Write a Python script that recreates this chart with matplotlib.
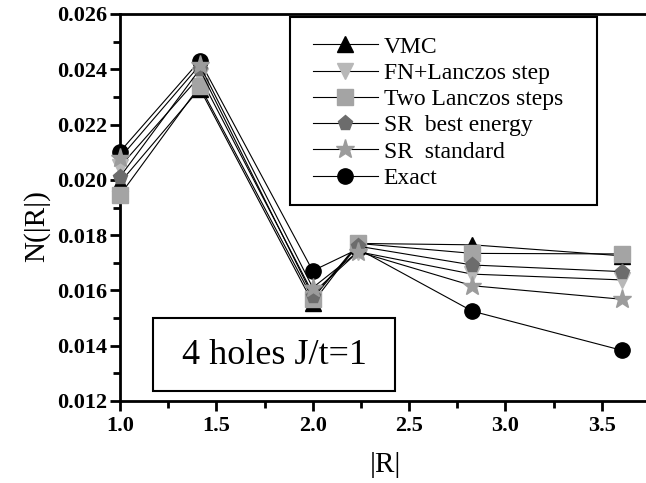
import matplotlib
matplotlib.use("Agg")
import matplotlib.pyplot as plt
from matplotlib.patches import Rectangle
from matplotlib.ticker import MultipleLocator

plt.rcParams["font.family"] = ["Liberation Serif", "DejaVu Serif"]

r = [1.0, 1.414, 2.0, 2.236, 2.828, 3.606]

vmc = [0.01990, 0.02330, 0.01555, 0.01770, 0.01765, 0.01725]
fn_lanczos = [0.02048, 0.02375, 0.01590, 0.01740, 0.01659, 0.01638]
two_lanczos = [0.01945, 0.02340, 0.01570, 0.01770, 0.01734, 0.01732]
sr_best = [0.02011, 0.02400, 0.01580, 0.01760, 0.01692, 0.01668]
sr_standard = [0.02079, 0.02415, 0.01610, 0.01740, 0.01617, 0.01568]
exact = [0.02102, 0.02431, 0.01671, 0.01750, 0.01525, 0.01383]

series = [
    ("VMC", vmc, "^", "black", 3),
    ("FN+Lanczos step", fn_lanczos, "v", "#b8b8b8", 4),
    ("Two Lanczos steps", two_lanczos, "s", "#a4a4a4", 5),
    ("SR  best energy", sr_best, "p", "#6c6c6c", 6),
    ("SR  standard", sr_standard, "*", "#9c9c9c", 7),
    ("Exact", exact, "o", "black", 2),
]

fig = plt.figure(figsize=(6.46, 4.83), dpi=100)
ax = fig.add_axes([120 / 646, 82 / 483, 530 / 646, 387 / 483])

for label, vals, mk, col, z in series:
    ms = 14 if mk == "*" else 11
    ax.plot(r, vals, color="black", lw=0.8, marker=mk, markersize=ms,
            markerfacecolor=col, markeredgecolor=col, label=label,
            clip_on=False, zorder=z)

ax.set_xlim(1.0, 3.75)
ax.set_ylim(0.012, 0.026)
ax.xaxis.set_major_locator(MultipleLocator(0.5))
ax.xaxis.set_minor_locator(MultipleLocator(0.25))
ax.yaxis.set_major_locator(MultipleLocator(0.002))
ax.yaxis.set_minor_locator(MultipleLocator(0.001))
ax.xaxis.set_major_formatter(plt.FormatStrFormatter("%.1f"))
ax.yaxis.set_major_formatter(plt.FormatStrFormatter("%.3f"))

for s in ax.spines.values():
    s.set_linewidth(2)
ax.spines["right"].set_visible(False)
ax.tick_params(which="major", direction="out", length=7, width=2, labelsize=16)
ax.tick_params(axis="y", which="major", pad=2)
ax.tick_params(which="minor", direction="out", length=5, width=2)
for lab in ax.get_xticklabels() + ax.get_yticklabels():
    lab.set_fontweight("bold")

ax.set_xlabel("|R|", fontsize=21, labelpad=12)
ax.set_ylabel("N(|R|)", fontsize=21)
ax.yaxis.set_label_coords(-70 / 530, 175 / 387)

leg = fig.legend(loc="upper left", bbox_to_anchor=(313 / 646, 1 - 36 / 483),
                 fontsize=17, frameon=False, handlelength=2.75,
                 labelspacing=0.2, borderpad=0.0, handletextpad=0.25,
                 borderaxespad=0)
fig.patches.append(Rectangle((290 / 646, 1 - 205 / 483), 307 / 646, 188 / 483,
                             transform=fig.transFigure, fill=False,
                             ec="black", lw=1.5))

fig.patches.append(Rectangle((153 / 646, 1 - 391 / 483), 242 / 646, 73 / 483,
                             transform=fig.transFigure, fc="white",
                             ec="black", lw=1.5, zorder=1))
fig.text(274 / 646, 1 - 356 / 483, "4 holes J/t=1", fontsize=26,
         ha="center", va="center")

fig.savefig("out.png", dpi=100)
